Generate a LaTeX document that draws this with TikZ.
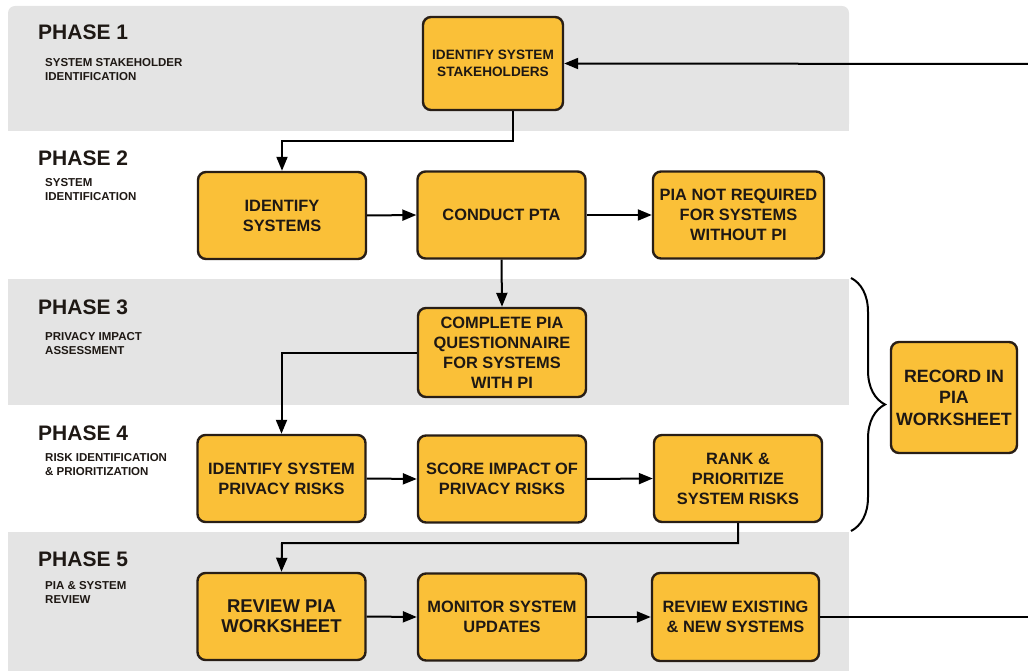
\documentclass[tikz,border=0pt]{standalone}
\usepackage{fontspec}
\setmainfont{Liberation Sans}
\usetikzlibrary{arrows.meta,decorations.pathreplacing}
\definecolor{bandgray}{RGB}{228,228,228}
\definecolor{boxfill}{RGB}{250,192,56}
\definecolor{boxline}{RGB}{40,30,22}
\definecolor{inkdark}{RGB}{30,24,20}

\begin{document}
\begin{tikzpicture}[x=1pt,y=-1pt,
  phase/.style={anchor=base west,inner sep=0pt,text=inkdark,font=\bfseries\fontsize{21}{24}\selectfont},
  sub/.style={anchor=base west,inner sep=0pt,align=left,text=inkdark,font=\bfseries\fontsize{11.5}{14}\selectfont},
  task/.style={draw=boxline,fill=boxfill,line width=2.4pt,rounded corners=8pt,minimum width=168pt,minimum height=87pt,
    inner sep=0pt,align=center,text=inkdark,font=\bfseries\fontsize{16.4}{20}\selectfont},
  flow/.style={line width=2pt,-{Triangle[length=14pt,width=11pt]}},
  plain/.style={line width=2pt}]

\useasboundingbox (0,0) rectangle (1028,671);

\fill[bandgray,rounded corners=7pt] (8,6) rectangle (849,131);
\fill[bandgray] (8,100) rectangle (849,131);
\fill[bandgray] (8,279) rectangle (849,405);
\fill[bandgray] (8,532) rectangle (849,671);

\node[phase] (ph1) at (38,40) {PHASE 1};
\node[sub] (ph1s) at (45,81) {SYSTEM STAKEHOLDER\\IDENTIFICATION};
\node[phase] (ph2) at (38,166) {PHASE 2};
\node[sub] (ph2s) at (45,201) {SYSTEM\\IDENTIFICATION};
\node[phase] (ph3) at (38,314) {PHASE 3};
\node[sub] (ph3s) at (45,354) {PRIVACY IMPACT\\ASSESSMENT};
\node[phase] (ph4) at (38,440) {PHASE 4};
\node[sub] (ph4s) at (45,475) {RISK IDENTIFICATION\\\& PRIORITIZATION};
\node[phase] (ph5) at (38,566) {PHASE 5};
\node[sub] (ph5s) at (45,603) {PIA \& SYSTEM\\REVIEW};

\node[task,minimum width=140pt,minimum height=93pt,font=\bfseries\fontsize{13.6}{17}\selectfont] (stake) at (493,63.5) {IDENTIFY SYSTEM\\STAKEHOLDERS};

\node[task] (idsys) at (282,215.5) {IDENTIFY\\SYSTEMS};
\node[task] (pta) at (501.5,215) {CONDUCT PTA};
\node[task,minimum width=171pt] (notreq) at (738.5,215) {PIA NOT REQUIRED\\FOR SYSTEMS\\WITHOUT PI};

\node[task,minimum height=89pt] (pia) at (502,352.5) {COMPLETE PIA\\QUESTIONNAIRE\\FOR SYSTEMS\\WITH PI};

\node[task] (risks) at (281.5,478.5) {IDENTIFY SYSTEM\\PRIVACY RISKS};
\node[task] (score) at (502,479) {SCORE IMPACT OF\\PRIVACY RISKS};
\node[task] (rank) at (738,478.5) {RANK \&\\PRIORITIZE\\SYSTEM RISKS};

\node[task,font=\bfseries\fontsize{18.5}{20}\selectfont] (review) at (281.5,616.5) {REVIEW PIA\\WORKSHEET};
\node[task] (monitor) at (502,617) {MONITOR SYSTEM\\UPDATES};
\node[task,minimum width=167pt,minimum height=88pt] (existing) at (735.5,617) {REVIEW EXISTING\\\& NEW SYSTEMS};

\node[task,minimum width=126pt,minimum height=111pt,font=\bfseries\fontsize{17.8}{21.5}\selectfont] (record) at (954,397.5) {RECORD IN\\PIA\\WORKSHEET};

\coordinate (back) at (1028,64);
\coordinate (away) at (1028,617);
\coordinate (turn1) at (513,141);
\coordinate (turn3) at (282,543);
\coordinate (btop) at (851,278);
\coordinate (bbot) at (851,531);

\draw[flow] (back) -- (stake.east);
\draw[flow] (stake.south -| turn1) -- (turn1) -| (idsys.north);
\draw[flow] (idsys.east) -- (pta.west);
\draw[flow] (pta.east) -- (notreq.west);
\draw[flow] (pta.south) -- (pia.north);
\draw[flow] (pia.west) -| (risks.north);
\draw[flow] (risks.east) -- (score.west);
\draw[flow] (score.east) -- (rank.west);
\draw[flow] (rank.south) |- (turn3) -- (review.north);
\draw[flow] (review.east) -- (monitor.west);
\draw[flow] (monitor.east) -- (existing.west);
\draw[plain] (existing.east) -- (away);

\draw[line width=2pt,decorate,decoration={brace,amplitude=34pt}] (btop) -- (bbot);

\end{tikzpicture}
\end{document}
